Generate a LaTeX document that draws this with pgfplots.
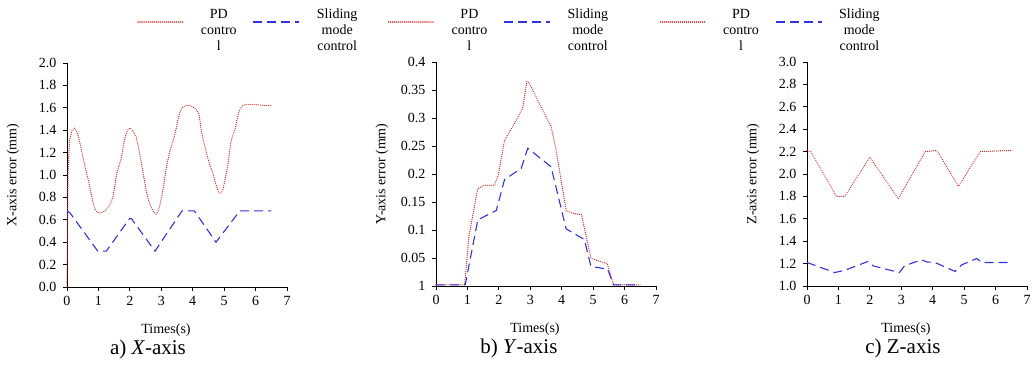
\documentclass[border=0pt]{standalone}
\usepackage{pgfplots}
\pgfplotsset{compat=1.18}
\usepackage{fontspec}
\setmainfont{Liberation Serif}
\definecolor{pdred}{RGB}{215,40,40}
\definecolor{smblue}{RGB}{50,50,225}
\newcommand{\lgA}{\hspace*{12pt}\parbox[c]{40pt}{\centering PD\\contro\\l}}
\newcommand{\lgB}{\hspace*{4pt}\parbox[c]{62pt}{\centering Sliding\\mode\\control}}
\pgfplotsset{
 myax/.style={
  scale only axis, width=220pt, height=224pt,
  axis lines*=left, xmin=0, xmax=7, xtick={0,...,7},
  tick align=outside, major tick length=4pt,
  tick style={black, line width=0.8pt},
  axis line style={line width=0.8pt},
  /pgf/number format/assume math mode=true,
  tick label style={font=\fontsize{14}{14}\selectfont},
  xticklabel style={yshift=-2pt},
  yticklabel style={xshift=-3pt},
  label style={font=\fontsize{14}{14}\selectfont},
  xlabel={Times(s)},
  xlabel style={at={(axis description cs:0.45,-0.193)},anchor=center},
  ylabel style={at={(axis description cs:-0.245,0.5)},anchor=center},
  clip=false,
  legend columns=2,
  legend style={draw=none, fill=none, inner sep=0pt, font=\fontsize{14}{16}\selectfont,
    anchor=west,
    /tikz/every even column/.append style={column sep=12pt}},
  legend image code/.code={\draw[#1, line width=1.4pt] (0pt,0pt) -- (46pt,0pt);},
 },
 pd/.style={color=pdred, draw=pdred, line width=1.3pt, line cap=round, dash pattern=on 0.01pt off 2pt},
 sm/.style={color=smblue, draw=smblue, line width=1.1pt, dash pattern=on 9pt off 5pt},
}
\begin{document}
\begin{tikzpicture}
\useasboundingbox (0,0) rectangle (1035pt,366pt);
% ---------- a) X-axis
\begin{axis}[myax, at={(67pt,79pt)}, anchor=south west,
  ymin=0, ymax=2, ytick={0,0.2,...,2.0},
  yticklabel style={/pgf/number format/.cd, fixed, fixed zerofill, precision=1},
  ylabel={X-axis error (mm)},
  legend style={at={(axis description cs:0.319,1.183)}}]
\addplot[pd] coordinates {(0,0) (0.03,1.0) (0.08,1.31) (0.16,1.40) (0.24,1.42) (0.32,1.38) (0.4,1.30) (0.5,1.17) (0.61,1.03) (0.7,0.93) (0.77,0.83) (0.88,0.70) (0.96,0.67) (1.04,0.66) (1.15,0.67) (1.25,0.69) (1.37,0.74) (1.46,0.80) (1.52,0.90) (1.57,1.00) (1.65,1.08) (1.73,1.15) (1.80,1.27) (1.85,1.34) (1.93,1.40) (2.01,1.42) (2.1,1.39) (2.2,1.34) (2.28,1.24) (2.36,1.12) (2.44,0.99) (2.52,0.86) (2.6,0.77) (2.68,0.71) (2.76,0.67) (2.84,0.65) (2.9,0.68) (2.94,0.71) (3.02,0.82) (3.1,0.95) (3.15,1.05) (3.2,1.12) (3.28,1.22) (3.37,1.30) (3.47,1.41) (3.55,1.52) (3.62,1.58) (3.7,1.61) (3.79,1.62) (3.92,1.62) (4.06,1.60) (4.15,1.57) (4.21,1.53) (4.26,1.42) (4.32,1.33) (4.4,1.24) (4.48,1.15) (4.57,1.07) (4.66,1.00) (4.72,0.93) (4.77,0.89) (4.83,0.84) (4.9,0.84) (4.96,0.87) (5.04,0.97) (5.12,1.09) (5.18,1.22) (5.22,1.30) (5.28,1.36) (5.35,1.41) (5.42,1.51) (5.49,1.58) (5.58,1.62) (5.70,1.63) (5.9,1.63) (6.12,1.625) (6.3,1.62) (6.5,1.62)};
\addlegendentry{\lgA}
\addplot[sm] coordinates {(0,0.68) (0.1,0.66) (0.98,0.32) (1.25,0.32) (1.99,0.61) (2.05,0.61) (2.8,0.32) (3.66,0.68) (4.05,0.68) (4.74,0.40) (5.5,0.68) (6.5,0.68)};
\addlegendentry{\lgB}
\node[font=\fontsize{21}{21}\selectfont] at (axis description cs:0.368,-0.277) {a) \textit{X}-axis};
\end{axis}
% ---------- b) Y-axis
\begin{axis}[myax, at={(436pt,80pt)}, anchor=south west,
  ymin=0, ymax=0.4, ytick={0,0.05,...,0.4},
  yticklabels={1,0.05,0.1,0.15,0.2,0.25,0.3,0.35,0.4},
  ylabel={Y-axis error (mm)},
  legend style={at={(axis description cs:-0.219,1.1785)}}]
\addplot[pd] coordinates {(0,0.002) (0.91,0.002) (1.05,0.09) (1.33,0.174) (1.55,0.18) (1.86,0.18) (1.99,0.2) (2.18,0.26) (2.55,0.296) (2.76,0.318) (2.89,0.365) (2.97,0.362) (3.34,0.32) (3.66,0.285) (3.82,0.243) (4.14,0.135) (4.35,0.13) (4.63,0.127) (4.93,0.05) (5.14,0.045) (5.45,0.04) (5.65,0.002) (6.5,0.002)};
\addlegendentry{\lgA}
\addplot[sm] coordinates {(0,0.002) (0.93,0.002) (1.33,0.118) (1.92,0.135) (2.18,0.19) (2.71,0.21) (2.92,0.246) (3.66,0.213) (4.14,0.102) (4.72,0.083) (4.93,0.035) (5.46,0.03) (5.65,0.002) (6.5,0.002)};
\addlegendentry{\lgB}
\node[font=\fontsize{21}{21}\selectfont] at (axis description cs:0.377,-0.277) {b) \textit{Y}-axis};
\end{axis}
% ---------- c) Z-axis
\begin{axis}[myax, at={(807pt,80pt)}, anchor=south west,
  ymin=1, ymax=3, ytick={1,1.2,...,3.0},
  yticklabel style={/pgf/number format/.cd, fixed, fixed zerofill, precision=1},
  ylabel={Z-axis error (mm)},
  legend style={at={(axis description cs:-0.671,1.1785)}}]
\addplot[pd] coordinates {(0,2.21) (0.12,2.2) (0.94,1.80) (1.2,1.80) (2.0,2.15) (2.9,1.78) (3.76,2.2) (4.13,2.21) (4.82,1.89) (5.51,2.2) (6.52,2.21)};
\addlegendentry{\lgA}
\addplot[sm] coordinates {(0,1.21) (0.88,1.12) (1.2,1.14) (1.95,1.22) (2.1,1.18) (2.94,1.12) (3.1,1.18) (3.65,1.235) (3.8,1.215) (4.07,1.21) (4.71,1.13) (4.93,1.19) (5.4,1.245) (5.56,1.21) (6.52,1.21)};
\addlegendentry{\lgB}
\node[font=\fontsize{21}{21}\selectfont] at (axis description cs:0.436,-0.277) {c) Z-axis};
\end{axis}
\end{tikzpicture}
\end{document}
